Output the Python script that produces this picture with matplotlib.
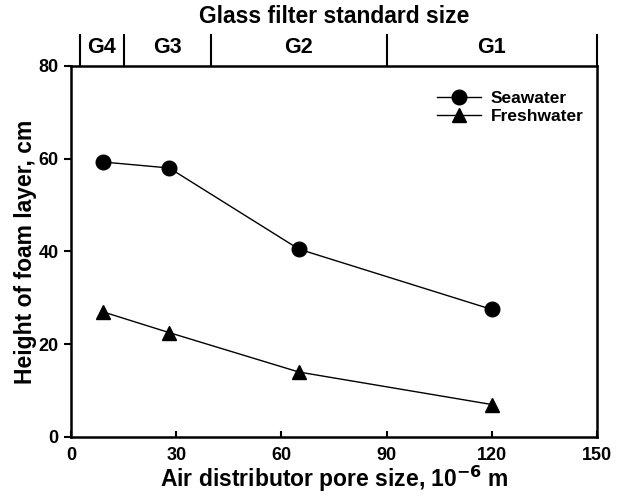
import matplotlib.pyplot as plt
import matplotlib.transforms as mtransforms

plt.rcParams['font.family'] = ['Liberation Sans', 'DejaVu Sans']
plt.rcParams['font.weight'] = 'bold'
plt.rcParams['mathtext.default'] = 'bf'

# data
pore_size = [9, 28, 65, 120]
seawater = [59.3, 58.0, 40.5, 27.5]
freshwater = [27.0, 22.5, 14.0, 7.0]

# glass filter grades on top axis
grade_edges = [2.5, 15, 40, 90, 150]
grade_names = ['G4', 'G3', 'G2', 'G1']

fig = plt.figure(figsize=(6.29, 4.96), dpi=100)
ax = fig.add_axes([0.113, 0.119, 0.836, 0.748])

ax.plot(pore_size, seawater, '-o', color='black', lw=1.0, ms=10.5, label='Seawater')
ax.plot(pore_size, freshwater, '-^', color='black', lw=1.0, ms=10, label='Freshwater')

ax.set_xlim(0, 150)
ax.set_ylim(0, 80)
ax.set_xticks([0, 30, 60, 90, 120, 150])
ax.set_yticks([0, 20, 40, 60, 80])
ax.tick_params(axis='x', direction='in', length=4, width=1.5, labelsize=13, pad=7)
ax.tick_params(axis='y', direction='out', length=5, width=1.5, labelsize=13, pad=4)
for s in ax.spines.values():
    s.set_linewidth(1.8)

ax.set_xlabel('Air distributor pore size, 10$^{-6}$ m', fontsize=16.5, fontweight='bold', labelpad=0)
ax.set_ylabel('Height of foam layer, cm', fontsize=16.5, fontweight='bold', labelpad=1)

# top scale with glass filter sizes
trans = mtransforms.blended_transform_factory(ax.transData, ax.transAxes)
for e in grade_edges:
    ax.plot([e, e], [1.0, 1.083], color='black', lw=1.5, transform=trans, clip_on=False)
for i, name in enumerate(grade_names):
    mid = (grade_edges[i] + grade_edges[i + 1]) / 2
    ax.text(mid, 1.05, name, transform=trans, ha='center', va='center',
            fontsize=15.5, fontweight='bold')
ax.text(75, 1.133, 'Glass filter standard size', transform=trans, ha='center',
        va='center', fontsize=16.5, fontweight='bold')

leg = ax.legend(loc='upper right', frameon=False, fontsize=12.5, handlelength=2.5,
                borderaxespad=0.5, labelspacing=0.15, handletextpad=0.6,
                bbox_to_anchor=(1.005, 0.975))

fig.savefig('out.png', dpi=100)
